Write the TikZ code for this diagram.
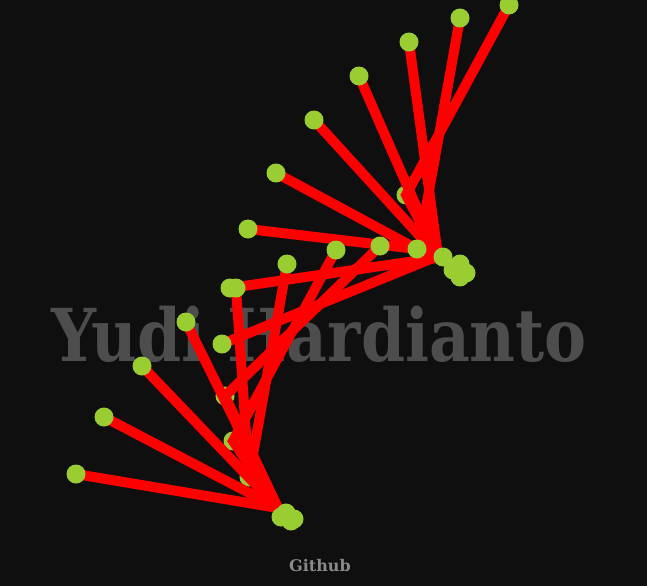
\documentclass[tikz,border=0pt]{standalone}
\usepackage{fontspec}
\newfontfamily\namefont{DejaVu Serif}
\definecolor{bgdark}{HTML}{0F0F0F}
\definecolor{spokered}{HTML}{FF0000}
\definecolor{dotgreen}{HTML}{9ACD32}
\definecolor{namegray}{HTML}{4D4D4D}
\definecolor{linkgray}{HTML}{8A8A8A}
\tikzset{
  spoke/.style={draw=spokered, line width=10pt},
  knob/.style={fill=dotgreen, draw=none},
}
\begin{document}
\begin{tikzpicture}[x=1pt,y=-1pt]
%canvas
\fill[bgdark] (0,0) rectangle (647,586);
\useasboundingbox (0,0) rectangle (647,586);

%hubs
\coordinate (uc) at (438,256);
\coordinate (lc) at (278,508);

%name behind everything
\node[text=namegray, anchor=base, inner sep=0pt] (name) at (319.5,361)
  {\scalebox{0.864}[1]{\namefont\bfseries\fontsize{73}{73}\selectfont Yudi Hardianto}};

%upper fan: outer ends
\coordinate (u1) at (509,5);
\coordinate (u2) at (460,18);
\coordinate (u3) at (409,42);
\coordinate (u4) at (359,76);
\coordinate (u5) at (314,120);
\coordinate (u6) at (276,173);
\coordinate (u7) at (248,229);
\coordinate (u8) at (230,288);
\coordinate (u9) at (222,344);
%upper fan: joints
\coordinate (uj1) at (406,195);
\coordinate (uj2) at (422,230);
\coordinate (uj3) at (417,249);
\coordinate (uj4) at (443,257);

%lower fan: outer ends
\coordinate (l1) at (76,474);
\coordinate (l2) at (104,417);
\coordinate (l3) at (142,366);
\coordinate (l4) at (186,322);
\coordinate (l5) at (236,288);
\coordinate (l6) at (287,264);
\coordinate (l7) at (336,250);
\coordinate (l8) at (380,246);
%lower fan: joints
\coordinate (lj1) at (225,396);
\coordinate (lj2) at (233,441);
\coordinate (lj3) at (249,477);

%joints that sit under the lines
\foreach \p in {uj1,uj2,lj1,lj2,lj3}
  \fill[knob] (\p) circle (9.5);

%upper arms
\draw[spoke] (u1) -- (uj1) -- (uc);
\draw[spoke] (u2) -- (uj2) -- (uc);
\foreach \p in {u3,u4,u5}
  \draw[spoke] (\p) -- (uc);
\draw[spoke] (u6) -- (uj3) -- (uc);
\draw[spoke] (u7) -- (uj3);
\draw[spoke] (u8) -- (uj4);
\draw[spoke] (u9) -- (uc);

%lower arms
\foreach \p in {l1,l2,l3,l4}
  \draw[spoke] (\p) -- (lc);
\draw[spoke] (l5) -- (lj3) -- (lc);
\draw[spoke] (l6) -- (lj3);
\draw[spoke] (l7) -- (lj2) -- (lc);
\draw[spoke] (l8) -- (lj1) -- (lc);

%dots on top
\foreach \p in {u1,u2,u3,u4,u5,u6,u7,u8,u9,uj3,uj4,l1,l2,l3,l4,l5,l6,l7,l8}
  \fill[knob] (\p) circle (9.5);
\foreach \p in {(453,270),(460,264),(460,277),(466,273)}
  \fill[knob] \p circle (9.5);
\foreach \p in {(281,517),(286,513),(291,521),(294,519)}
  \fill[knob] \p circle (9.5);

%footer
\node[text=linkgray, anchor=base, inner sep=0pt] (link) at (320,571)
  {\namefont\bfseries\fontsize{16}{16}\selectfont Github};
\end{tikzpicture}
\end{document}
